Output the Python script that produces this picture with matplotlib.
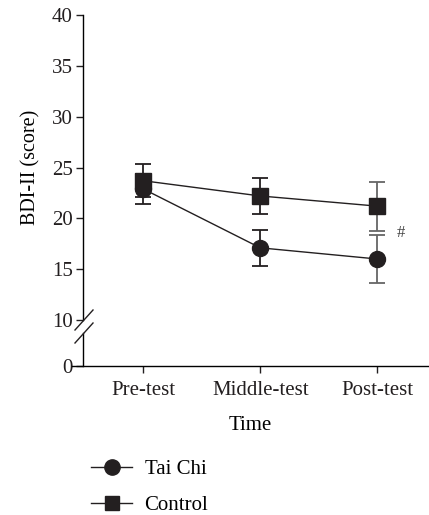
import numpy as np
import matplotlib.pyplot as plt
from matplotlib.lines import Line2D

plt.rcParams.update(
    {
        "font.family": "Liberation Serif",
        "font.size": 15,
        "axes.linewidth": 1.0,
        "xtick.major.width": 1.0,
        "ytick.major.width": 1.0,
    }
)

# Data
times = ["Pre-test", "Middle-test", "Post-test"]
taichi_mean = [22.9, 17.1, 16.0]
taichi_sd = [1.5, 1.8, 2.4]
control_mean = [23.7, 22.2, 21.2]
control_sd = [1.6, 1.8, 2.4]
bar_colors = ["#231f20", "#231f20", "#666666"]
ink = "#231f20"

x = np.arange(len(times))

fig = plt.figure(figsize=(4.29, 5.15), dpi=100)
ax = fig.add_axes([0.1678, 0.3786, 0.8322, 0.5923])
axb = fig.add_axes([0.1678, 0.2893, 0.8322, 0.0641])

xlim = (-0.607, 2.44)
for a in (ax, axb):
    a.set_xlim(*xlim)
    a.spines["top"].set_visible(False)
    a.spines["right"].set_visible(False)
    a.spines["left"].set_position(("data", -0.513))
    a.tick_params(direction="out", length=5, colors=ink, labelcolor=ink)
    a.tick_params(axis="y", pad=2.5)

# upper part
ax.set_ylim(10, 40)
ax.set_yticks([10, 15, 20, 25, 30, 35, 40])
ax.spines["bottom"].set_visible(False)
ax.set_xticks([])
ax.set_ylabel("BDI-II (score)", labelpad=8, fontsize=14.5)

# lower part
axb.set_ylim(0, 3.26)
axb.set_yticks([0])
axb.set_xticks(x)
axb.set_xticklabels(times)
axb.tick_params(axis="x", pad=6)
axb.set_xlabel("Time", labelpad=11)

for mean, sd, mk in [(control_mean, control_sd, "s"), (taichi_mean, taichi_sd, "o")]:
    ax.plot(x, mean, color=ink, lw=1.0, zorder=2)
    for i in range(len(x)):
        ax.errorbar(x[i], mean[i], yerr=sd[i], fmt="none", ecolor=bar_colors[i],
                    elinewidth=1.3, capsize=6, capthick=1.3, zorder=1)
    ax.plot(x, mean, mk, color=ink, ms=11.5 if mk == "o" else 11, zorder=3, clip_on=False)

ax.text(2.197, 18.6, "#", ha="center", va="center", fontsize=12, color="#444444")

# axis break marks
for yb in (320, 333):
    yf = 1 - yb / 515
    fig.add_artist(Line2D([75 / 429, 93 / 429], [yf - 10 / 515, yf + 10 / 515],
                          color=ink, lw=1.0))

handles = [
    Line2D([], [], color=ink, marker="o", ms=11, lw=1.0),
    Line2D([], [], color=ink, marker="s", ms=10.5, lw=1.0),
]
fig.legend(handles, ["Tai Chi", "Control"], loc="upper left",
           bbox_to_anchor=(81 / 429, 1 - 449 / 515), frameon=False,
           handlelength=1.95, handletextpad=0.6, labelspacing=0.78, borderpad=0)

fig.savefig("out.png", dpi=100)
